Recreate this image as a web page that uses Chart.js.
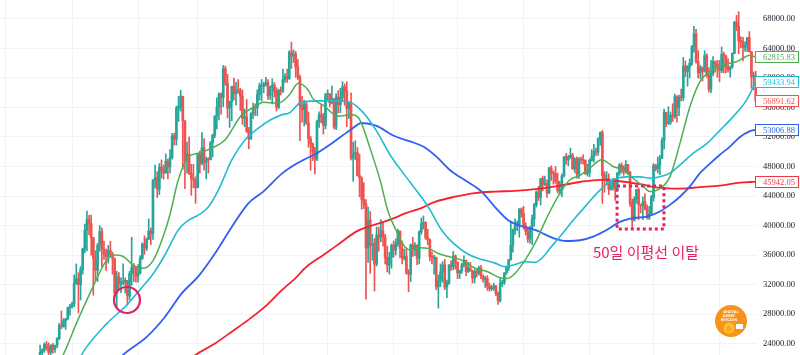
<!DOCTYPE html>
<html><head><meta charset="utf-8">
<script src="https://cdn.jsdelivr.net/npm/chart.js@4.4.1/dist/chart.umd.min.js"></script>
<style>html,body{margin:0;padding:0;background:#fff;}canvas{display:block}</style>
</head><body>
<canvas id="c" width="800" height="355"></canvas>
<script>
// ---- DATA (BTC daily, first candle 2020-12-17; day index counted from 2020-12-01) ----
const firstDay = 16;
const firstOpen = 21310;
const closes = [
22805,23137,23869,23477,22803,23783,23241,23735,24664,26437,26272,27084,27362,28841,29002,
29374,32127,32782,31971,33992,36824,39371,40797,40254,38356,35566,33922,37316,39187,36825,36178,35792,36630,36069,35548,30825,33006,32068,32289,32367,32569,30432,33467,34316,34269,33115,
33537,35510,37473,36927,38144,39266,38903,46196,46481,44919,47910,47504,47106,48718,47945,49200,52149,51680,55888,56100,57540,54207,48825,49705,47093,46340,46155,45138,
49631,48378,50538,48561,48927,48912,51207,52246,54824,56008,57805,57332,61243,59302,55907,56804,58870,57858,58346,58313,57523,54529,54738,52775,51704,55137,55974,55948,57750,58918,58918,
59095,59384,57604,58758,59057,58192,56048,58323,58245,59793,60204,59894,63503,62969,63252,61455,60087,56251,55704,56473,53906,51762,51093,50050,49004,54022,55034,54824,53555,57750,
57828,56631,57200,53333,57424,56397,57356,58803,58232,55859,56704,49150,49716,49880,46760,46456,43538,42910,36964,40784,37304,37536,34770,38705,38402,39294,38436,35697,34616,35678,37332,
36684,37575,39188,36895,35548,35796,33549,33403,37388,36703,37314,35552,39098,40218,40406,38347,38054,35787,35615,35698,31676,32505,33723,34662,31637,32186,34650,34434,35867,35041,
33572,33897,34668,35287,33746,34235,33855,32877,33798,33520,34240,33155,32702,32822,31780,31421,31533,31796,30817,29807,32110,32313,33581,34292,35350,37337,39406,39995,40008,42235,41626,
39974,39201,38152,39747,40870,42816,44555,43798,46365,45585,45593,44428,47794,47097,47047,46004,44695,44802,46718,49339,48905,49321,49546,47707,48993,46942,49058,48902,48830,47055,47167,
48848,49327,50026,49944,51754,52633,46811,46091,46392,44883,45201,46063,44963,47092,48177,47784,47268,48278,47261,43012,40694,43574,44896,42840,42716,43209,42236,41035,41564,43790,
48116,47711,48199,49113,51514,55362,53805,53967,54968,54771,57484,56041,57401,57321,61593,60892,61553,62026,64262,65993,62210,60693,61393,60931,63039,60363,58483,60622,62228,61888,61319,
61004,63226,62970,61452,61125,61527,63327,67566,66971,64995,64950,64155,64469,65466,63557,60161,60368,56891.62
];
const highs = [
23770,23280,24090,24280,24100,23820,24020,23800,24790,26720,28400,27390,27370,28940,29300,
29600,33300,34790,33600,34440,36940,40180,41950,41380,41420,38350,36600,37600,40000,39700,37900,36800,37300,37850,36400,35600,33800,33600,32900,34800,32900,32560,33780,38400,34830,34300,
34700,35900,37660,38600,38300,40900,39700,46200,48200,47300,48400,48900,48200,49700,49000,50300,52500,52500,56200,57500,58350,57500,54200,51300,52000,48300,48300,46600,
49800,50100,52600,51800,49300,49200,51400,52400,54900,57300,58000,58000,61700,61600,60500,56900,58900,60000,59400,59800,58600,58400,55800,57100,53300,55300,56600,56500,58400,59300,59800,
59400,60100,59800,58900,59900,59400,58700,58500,58800,61200,60600,61200,63700,64860,63800,63600,62500,60400,57500,57000,56700,55400,52100,51200,50600,54300,55400,56400,55200,57900,
58400,57900,58900,57000,57900,58300,58600,59500,59200,59500,56800,58000,51300,51500,50600,49700,46600,45800,43500,42500,41900,38800,38200,39800,39800,40800,40400,38800,37200,36400,37500,
37900,38200,39500,39300,37900,36800,36800,34000,37500,38400,37700,37400,39300,41000,41300,40500,39500,38200,36400,36000,35700,33300,34800,35100,35400,32600,34700,35200,36500,36000,
35000,33900,34900,35900,35300,35000,35000,33900,34000,34200,34500,34600,33300,33100,33200,32200,31900,32200,31900,31000,32800,32600,33600,34500,35400,40500,39500,40900,40600,42300,42400,
42600,40400,39800,39900,41400,43000,44700,45300,46400,46700,46700,46200,47900,48100,47400,48000,47100,46000,47000,49300,49800,49500,50500,49800,49200,49300,49200,49300,49600,48900,48300,
49000,50300,51000,50500,51900,52700,52900,47300,47300,47000,45900,46400,46300,47200,48400,48500,48100,48800,48300,47300,43600,43900,44900,45100,42900,43900,44300,42800,42600,44100,
48400,48300,49300,49500,51900,55800,55300,56100,55400,56500,57800,57600,57700,58500,62800,62300,61700,62600,64400,67000,66600,63700,61700,61500,63700,63300,61400,62400,62900,62300,62400,
62400,64200,63500,63100,62600,61600,63400,67700,68500,69000,65600,65500,64900,65500,66300,63600,60800,60900
];
const lows = [
21230,22350,22800,23080,22380,22370,22700,22800,23450,24520,25990,26210,25900,27210,27850,
28800,29000,32000,28130,29900,33400,36300,36570,38720,35980,30550,32530,32400,36500,34400,35400,33900,34900,35800,33400,30070,28850,31400,30900,31950,30840,29240,29880,31900,32400,32300,
32300,33420,35400,36100,36600,38100,37400,38100,45100,43800,44200,46400,46300,47100,46300,47100,49000,50900,50900,54100,55500,47600,45000,47100,46900,44100,45100,43000,
45100,47100,48200,47500,46300,47100,48900,49300,51900,53100,54300,55100,56100,59000,54600,53300,54200,57000,56300,57900,55600,53700,53400,52600,50400,51700,54500,54900,54900,57000,56900,
58000,58900,57100,57100,56500,57400,55500,55800,57700,58000,59400,59400,59800,61300,62100,60100,59800,51500,54000,53500,53700,50600,47500,48800,47000,48800,53300,53900,52400,53100,
57000,56100,56500,53100,53000,55300,55300,56900,56300,53400,54500,48900,46000,48900,46700,43900,42200,42300,30000,35000,33500,35300,31100,34500,36500,37800,37200,34800,33700,33400,34200,
35700,36000,37200,35600,34800,35300,33400,31000,32400,35800,35900,34700,34800,38800,39500,38100,37400,35200,34800,33400,31300,28800,31700,32300,31300,30200,32000,33900,34000,34100,
32800,32800,33500,34400,33200,33600,33800,32200,32200,33000,33300,32800,32300,31600,31200,31100,31200,31200,30500,29300,29600,31700,32000,33400,33900,35300,36400,38800,39300,38400,41100,
39500,38700,37700,37600,37400,39900,42500,43400,42800,44700,45400,43800,44300,46100,45600,45700,44400,44200,43900,46600,48300,48100,49100,47600,47200,46400,46400,48400,48300,46900,46700,
46600,48700,48600,49500,49500,50900,43000,44500,45500,44200,44800,44800,43400,44800,46800,47100,46800,47100,46900,42600,39600,40600,43000,40800,41700,40800,42100,40900,40800,41400,
43300,47400,47100,46900,49100,50400,53400,53700,53700,54100,54500,54000,54900,56900,56900,60200,58900,60000,61700,63500,62000,60000,59900,59600,60800,60100,58100,58000,60300,60800,60100,
59500,60700,60700,60700,60800,60100,61300,63300,66400,63300,64100,62300,63600,63600,63500,58600,58400,56600
];
// moving averages: [day, price]
const ma20 = [[22,20500],[26.9,22500],[33,26700],[39.4,30800],[47.3,35300],[51.2,36000],[55.1,35800],[59.8,34600],[64.5,34200],[69.2,35300],[73.8,38500],[77,41500],[80.9,46200],[85.6,49300],[90.3,49800],[96.6,50500],[102.8,51600],[110.7,55000],[116.9,56100],[120.7,56700],[127.7,56600],[133.3,57800],[137.2,59300],[141.8,58400],[144.1,57200],[149,56300],[156,54800],[162.3,55000],[166.2,54300],[170.9,50500],[175.6,46200],[179.5,41800],[183.4,39200],[187.3,37100],[190.5,36700],[194.4,37000],[198.3,36900],[203,36200],[207.7,35800],[214,35300],[220.2,34200],[226.4,33700],[231.1,33000],[235.1,32800],[239,33500],[243.7,35300],[248.4,37600],[253,40500],[255.4,41900],[260.1,44400],[264.8,46200],[269.5,46800],[274.2,47800],[279.7,48900],[285.1,48000],[289.8,47500],[295.3,46200],[299.2,45300],[302.3,44600],[307,45000],[311.7,46600],[316.4,51100],[321.1,56100],[325.8,59500],[330.5,60900],[336.8,61800],[343,62200],[349.3,63100],[352,62815.83]];
const ma50 = [[33,21000],[35.5,22500],[47.3,26700],[56.7,29200],[62.9,31300],[69.2,33500],[74.6,36000],[80.9,39400],[85.6,40700],[90.3,41400],[95,42500],[99.7,44800],[106,48900],[112.2,51600],[118.5,53200],[124.7,54400],[129.4,55000],[133.3,55300],[138,56600],[145.9,56900],[153.7,56900],[161.5,56700],[167.7,55300],[174,52800],[180.3,49600],[186.5,47100],[192.8,44700],[198.3,42500],[204.5,39400],[210.8,37400],[217,36100],[223.3,35400],[229.6,34900],[234.3,34400],[239,34700],[243.7,35100],[248.4,35000],[253,36000],[255.4,36900],[260.1,38500],[266.3,40700],[272.6,42800],[278.9,44800],[285.1,46200],[291.4,46600],[297.7,46600],[302.3,46400],[307,46600],[311.7,47100],[316.4,48200],[322.7,49800],[329,51100],[335.2,52900],[341.5,54800],[347.7,57000],[352,59433.94]];
const ma100 = [[52,21500],[55.1,22500],[66.1,24900],[74.6,27600],[82.5,30800],[90.3,33100],[98.1,36200],[106,39800],[113.8,43000],[120.8,44600],[129.4,47000],[136.5,48400],[145.9,49800],[153.7,51300],[161.5,52900],[167,53900],[174,53500],[181.8,52200],[189.7,51400],[195.9,50700],[202.2,49300],[208.5,47500],[216.3,46000],[223.3,44600],[229.6,42500],[235.8,40700],[242.1,39900],[248.4,39400],[253,38800],[256.9,38300],[263.2,37900],[269.5,38000],[275.7,38500],[282,39400],[288.3,40500],[294.5,41000],[300.8,41200],[307,41900],[311.7,42800],[316.4,43900],[321.1,45300],[325.8,47100],[330.5,48400],[335.2,49600],[339.9,50700],[344.6,52000],[349.3,52800],[352,53006.88]];
const ma200 = [[86,21800],[88.7,22400],[98.1,24000],[106,25600],[113.8,27200],[121.6,29000],[129.4,31200],[135.7,32800],[141.1,34400],[149,36000],[156.8,37600],[164.6,39200],[170.9,39900],[180.3,40800],[188.1,41700],[194.4,42300],[201.4,43200],[210.8,43900],[220.2,44400],[229.6,44600],[239,44700],[250.7,45000],[260.1,45400],[269.5,45900],[278.9,46200],[288.3,46000],[297.7,45600],[307,45100],[316.4,45000],[325.8,45200],[335.2,45400],[344.6,45800],[352,45942.05]];
const priceTicks = [24000,28000,32000,36000,40000,44000,48000,52000,56000,60000,64000,68000];
const monthStarts = [0,31,62,90,121,151,182,212,243,274,304,335];
const endValues = [62815.83, 59433.94, 56891.62, 53006.88, 45942.05];
const noteText = '50일 이평선 이탈';
const circleMark = {day: 56.8, price: 29900};
const boxMark = {day0: 286.9, day1: 308.9, price0: 45356, price1: 39525};
const noteMark = {day: 300.5, price: 36300};

// ---- STYLE ----
const UP = '#26a69a', DOWN = '#ef5350';
const MA_COLORS = ['#4caf50', '#22bcd4', '#2f5ff5', '#f5222d'];
const END_COLORS = ['#4caf50', '#22bcd4', '#ef5350', '#2f5ff5', '#f23645'];
const PINK = '#e91e63';
const TICK_FONT = '8.5px "Liberation Serif"';

const opens = closes.map((c, i) => i === 0 ? firstOpen : closes[i - 1]);
const isUp = closes.map((c, i) => c >= opens[i]);
const candleColor = ctx => isUp[ctx.dataIndex] ? UP : DOWN;
const wickData = closes.map((c, i) => ({x: firstDay + i, y: [lows[i], highs[i]]}));
const bodyData = closes.map((c, i) => ({x: firstDay + i, y: [opens[i], c]}));
const toPts = arr => arr.map(([x, y]) => ({x, y}));

function lineDs(label, arr, color, width) {
  return {type: 'line', label, data: toPts(arr), borderColor: color, borderWidth: width,
    pointRadius: 0, cubicInterpolationMode: 'monotone', fill: false, order: 0};
}

const overlay = {
  id: 'overlay',
  afterDraw(chart) {
    const {ctx, scales: {x, y}} = chart;
    ctx.save();
    ctx.strokeStyle = PINK; ctx.lineWidth = 2.2;
    ctx.beginPath();
    ctx.arc(x.getPixelForValue(circleMark.day), y.getPixelForValue(circleMark.price), 13, 0, Math.PI * 2);
    ctx.stroke();
    ctx.setLineDash([3, 3]); ctx.lineWidth = 3;
    const bx0 = x.getPixelForValue(boxMark.day0), bx1 = x.getPixelForValue(boxMark.day1);
    const by0 = y.getPixelForValue(boxMark.price0), by1 = y.getPixelForValue(boxMark.price1);
    ctx.strokeRect(bx0, by0, bx1 - bx0, by1 - by0);
    ctx.setLineDash([]);
    ctx.fillStyle = PINK; ctx.font = '15px "Noto Sans CJK KR"';
    ctx.textAlign = 'center'; ctx.textBaseline = 'middle';
    ctx.fillText(noteText, x.getPixelForValue(noteMark.day), y.getPixelForValue(noteMark.price));
    ctx.font = TICK_FONT; ctx.textAlign = 'left';
    endValues.forEach((v, i) => {
      const py = Math.round(y.getPixelForValue(v));
      ctx.fillStyle = '#fff';
      ctx.fillRect(755.5, py - 5.5, 43, 11);
      ctx.strokeStyle = END_COLORS[i]; ctx.lineWidth = 1;
      ctx.strokeRect(755.5, py - 5.5, 43, 11);
      ctx.fillStyle = END_COLORS[i];
      ctx.fillText(v.toFixed(2), 763, py + 0.5);
    });
    const lx = 731, ly = 321;
    ctx.fillStyle = '#f7931a';
    ctx.beginPath(); ctx.arc(lx, ly, 16, 0, Math.PI * 2); ctx.fill();
    ctx.fillStyle = '#fbc02d';
    ctx.beginPath(); ctx.arc(lx - 2, ly + 7, 5.5, 0, Math.PI * 2); ctx.fill();
    ctx.fillStyle = '#fff'; ctx.font = 'bold 3.5px "DejaVu Sans"'; ctx.textAlign = 'center';
    ctx.fillText('DIGITAL', lx, ly - 9); ctx.fillText('ASSET', lx - 2, ly - 5); ctx.fillText('BITCOIN', lx - 2, ly - 1);
    ctx.fillStyle = '#f7931a'; ctx.font = 'bold 7px "DejaVu Sans"';
    ctx.fillText('₿', lx - 2, ly + 8);
    ctx.fillStyle = '#fff'; ctx.fillRect(lx + 5, ly + 3, 7, 5);
    ctx.restore();
  }
};

new Chart(document.getElementById('c'), {
  type: 'bar',
  data: {datasets: [
    lineDs('MA20', ma20, MA_COLORS[0], 1.5),
    lineDs('MA50', ma50, MA_COLORS[1], 1.6),
    lineDs('MA100', ma100, MA_COLORS[2], 1.8),
    lineDs('MA200', ma200, MA_COLORS[3], 1.8),
    {type: 'bar', label: 'wick', data: wickData, backgroundColor: candleColor, barThickness: 1, grouped: false, order: 2},
    {type: 'bar', label: 'body', data: bodyData, backgroundColor: candleColor, barThickness: 2, grouped: false, minBarLength: 1, order: 1}
  ]},
  options: {
    responsive: false, animation: false, devicePixelRatio: 1,
    layout: {padding: 0, autoPadding: false},
    plugins: {legend: {display: false}, tooltip: {enabled: false}},
    scales: {
      x: {type: 'linear', min: -2.817, max: 352.6, offset: false,
        afterBuildTicks: s => { s.ticks = monthStarts.map(v => ({value: v})); },
        ticks: {display: false}, grid: {color: '#f0f3fa', drawTicks: false, offset: false}, border: {display: false},
        afterFit: s => { s.height = 0; s.paddingLeft = 0; s.paddingRight = 0; s.paddingTop = 0; s.paddingBottom = 0; }},
      y: {position: 'right', min: 22441, max: 70576,
        afterBuildTicks: s => { s.ticks = priceTicks.map(v => ({value: v})); },
        ticks: {padding: 6, color: '#131722', font: {family: 'Liberation Serif', size: 8.5}, callback: v => v.toFixed(2), autoSkip: false},
        grid: {color: '#f0f3fa', drawTicks: false}, border: {display: false},
        afterFit: s => { s.width = 43; s.paddingTop = 0; s.paddingBottom = 0; s.paddingLeft = 0; s.paddingRight = 0; }}
    }
  },
  plugins: [overlay]
});
</script>
</body></html>
